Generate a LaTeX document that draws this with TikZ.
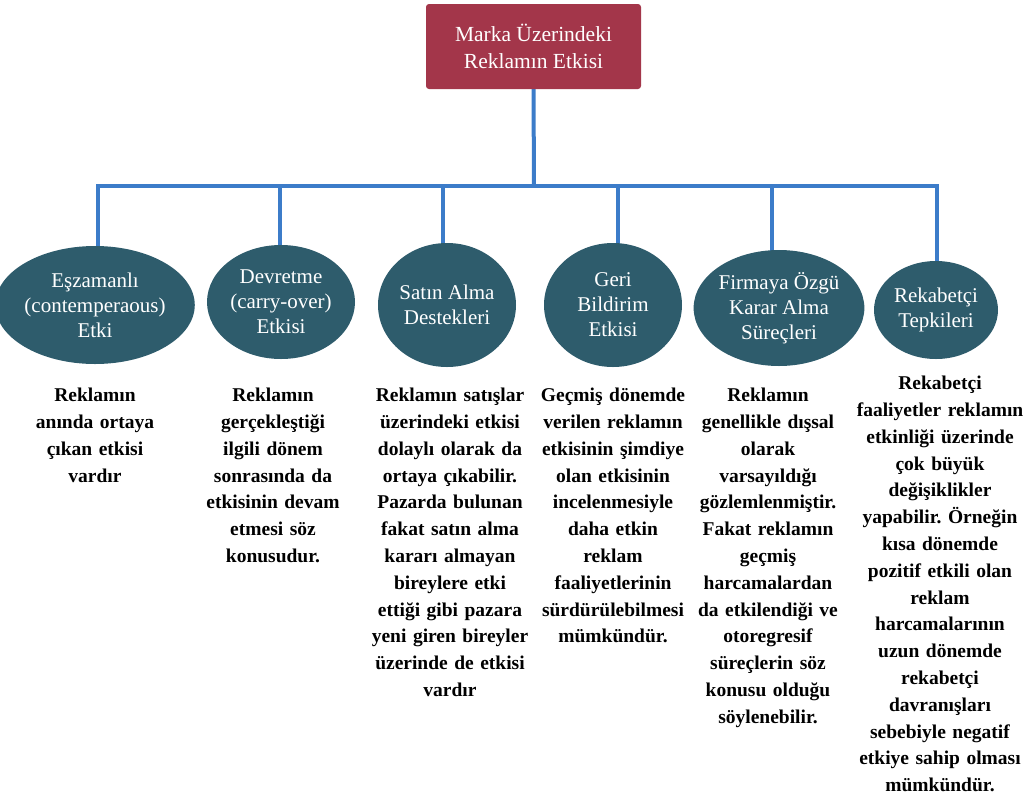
\documentclass[tikz,border=0pt]{standalone}
\usepackage{fontspec}
\setmainfont{Liberation Serif}
\usetikzlibrary{shapes.geometric,backgrounds}
\definecolor{boxred}{HTML}{A3364A}
\definecolor{ovalteal}{HTML}{2E5C6C}
\definecolor{linkblue}{HTML}{3C7CC9}
\frenchspacing
\tikzset{
  topbox/.style={rectangle, rounded corners=3pt, fill=boxred, text=white, align=center,
    inner sep=0pt, minimum width=215pt, minimum height=85pt,
    font=\fontsize{21.5}{27}\selectfont},
  oval/.style={ellipse, fill=ovalteal, text=white, align=center, inner sep=0pt,
    font=\fontsize{21}{25}\selectfont},
  desc/.style={anchor=north, align=center, inner sep=0pt, text width=185pt,
    font=\frenchspacing\fontsize{19.5}{26.8}\selectfont\bfseries},
  conn/.style={draw=linkblue, line width=4pt, line join=miter}
}
\begin{document}
\begin{tikzpicture}[x=1pt,y=-1pt]
\useasboundingbox (0,0) rectangle (1026,804);
\node[topbox] (top) at (533.5,46.5) {Marka Üzerindeki\\Reklamın Etkisi};

\node[oval, minimum width=180pt, minimum height=118pt] (e1) at (95,305) {Eşzamanlı\\(contemperaous)\\Etki};
\node[oval, minimum width=148pt, minimum height=114pt] (e2) at (281,302) {Devretme\\(carry-over)\\Etkisi};
\node[oval, minimum width=138pt, minimum height=124pt] (e3) at (447,305) {Satın Alma\\Destekleri};
\node[oval, minimum width=138pt, minimum height=124pt] (e4) at (613,305) {Geri\\Bildirim\\Etkisi};
\node[oval, minimum width=156pt, minimum height=116pt] (e5) at (779,308) {Firmaya Özgü\\Karar Alma\\Süreçleri};
\node[oval, minimum width=124pt, minimum height=98pt] (e6) at (936,310) {Rekabetçi\\Tepkileri};

\coordinate (bar) at (534,186);
\coordinate (d1) at (98,186);
\coordinate (d2) at (280,186);
\coordinate (d3) at (443,186);
\coordinate (d4) at (618,186);
\coordinate (d5) at (772,186);
\coordinate (d6) at (937,186);

\begin{scope}[on background layer]
\draw[conn] (top.south) -- (bar);
\draw[conn] (d1 |- e1.center) -- (d1) -- (d6) -- (d6 |- e6.center);
\draw[conn] (d2) -- (d2 |- e2.center);
\draw[conn] (d3) -- (d3 |- e3.center);
\draw[conn] (d4) -- (d4 |- e4.center);
\draw[conn] (d5) -- (d5 |- e5.center);
\end{scope}

\node[desc] (t1) at (95,388) {Reklamın\\anında ortaya\\çıkan etkisi\\vardır};
\node[desc] (t2) at (273,388) {Reklamın\\gerçekleştiği\\ilgili dönem\\sonrasında da\\etkisinin devam\\etmesi söz\\konusudur.};
\node[desc] (t3) at (450,388) {Reklamın satışlar\\üzerindeki etkisi\\dolaylı olarak da\\ortaya çıkabilir.\\Pazarda bulunan\\fakat satın alma\\kararı almayan\\bireylere etki\\ettiği gibi pazara\\yeni giren bireyler\\üzerinde de etkisi\\vardır};
\node[desc] (t4) at (613,388) {Geçmiş dönemde\\verilen reklamın\\etkisinin şimdiye\\olan etkisinin\\incelenmesiyle\\daha etkin\\reklam\\faaliyetlerinin\\sürdürülebilmesi\\mümkündür.};
\node[desc] (t5) at (768,388) {Reklamın\\genellikle dışsal\\olarak\\varsayıldığı\\gözlemlenmiştir.\\Fakat reklamın\\geçmiş\\harcamalardan\\da etkilendiği ve\\otoregresif\\süreçlerin söz\\konusu olduğu\\söylenebilir.};
\node[desc] (t6) at (940,376) {Rekabetçi\\faaliyetler reklamın\\etkinliği üzerinde\\çok büyük\\değişiklikler\\yapabilir. Örneğin\\kısa dönemde\\pozitif etkili olan\\reklam\\harcamalarının\\uzun dönemde\\rekabetçi\\davranışları\\sebebiyle negatif\\etkiye sahip olması\\mümkündür.};
\end{tikzpicture}
\end{document}
